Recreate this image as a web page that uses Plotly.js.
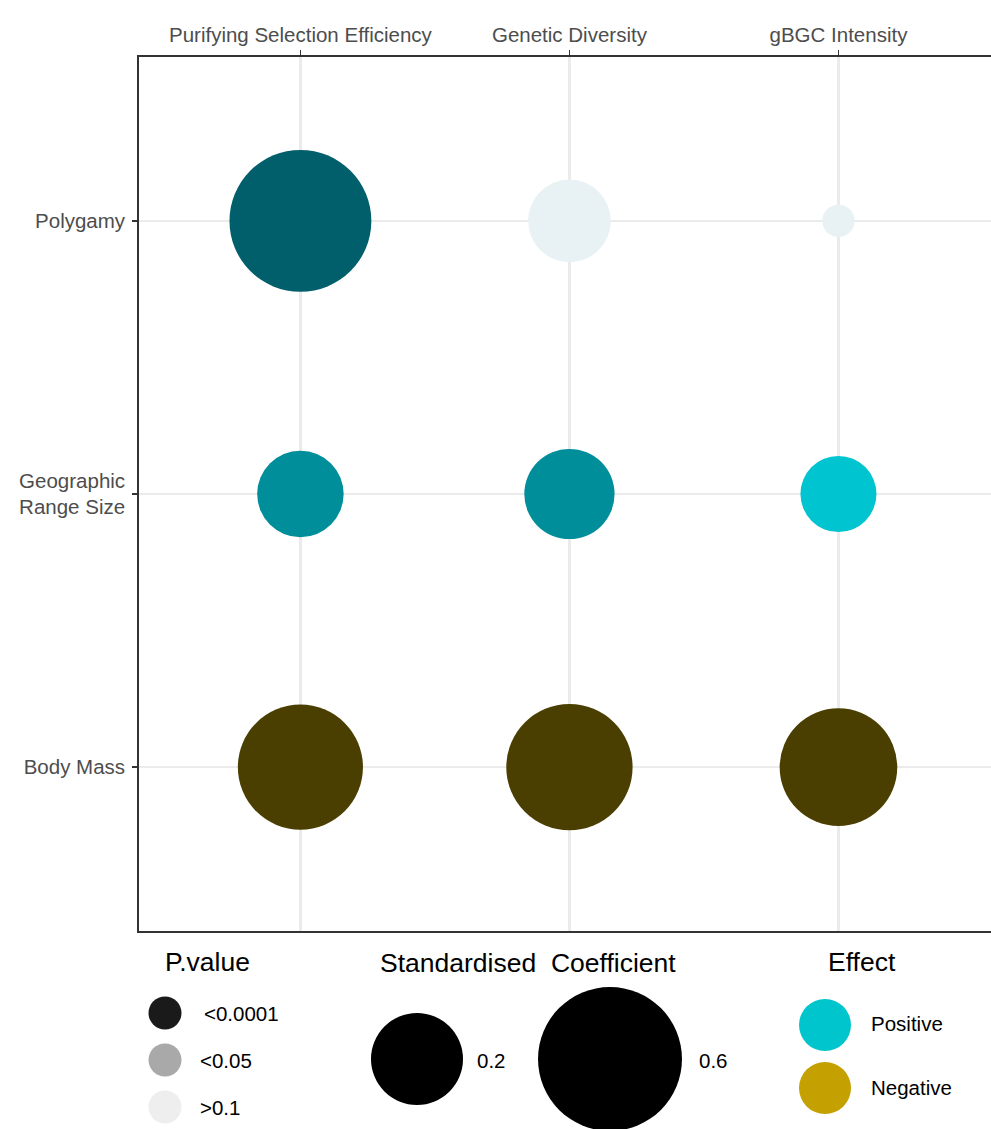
<!DOCTYPE html>
<html><head><meta charset="utf-8">
<script src="https://cdn.plot.ly/plotly-3.0.1.min.js"></script>
<style>html,body{margin:0;padding:0;background:#fff;overflow:hidden}</style>
</head><body><div id="chart" style="width:991px;height:1129px"></div>
<script>
// ---- data ----
const responses = ['Purifying Selection Efficiency', 'Genetic Diversity', 'gBGC Intensity'];
const predictors = ['Body Mass', 'Geographic<br>Range Size', 'Polygamy'];
// standardised coefficients, one array per predictor (in responses order)
const coefPolygamy = [0.58, 0.15, 0.005];
const coefRangeSize = [0.17, 0.19, 0.12];
const coefBodyMass = [-0.43, -0.44, -0.37];
// p-value classes
const pPolygamy = ['<0.0001', '>0.1', '>0.1'];
const pRangeSize = ['<0.05', '<0.05', '<0.1'];
const pBodyMass = ['<0.0001', '<0.0001', '<0.0001'];
// legend keys
const pLevels = ['<0.0001', '<0.05', '>0.1'];
const sizeBreaks = [0.2, 0.6];
const effectLevels = ['Positive', 'Negative'];

// ---- styles ----
const FONT = 'Liberation Sans, Arial, sans-serif';
const shade = {
  Positive: {'<0.0001': '#005F6B', '<0.05': '#008F9A', '<0.1': '#00C4CF', '>0.1': '#E8F1F3'},
  Negative: {'<0.0001': '#4A3F00', '<0.05': '#7A6800', '<0.1': '#C4A000', '>0.1': '#F3F0E4'}
};
const pKeyColor = {'<0.0001': '#1A1A1A', '<0.05': '#A9A9A9', '>0.1': '#EEEEEE'};
const effectColor = {Positive: '#00C5CD', Negative: '#C4A000'};
function diam(v) { return 21.1 + 158.6 * Math.sqrt(Math.abs(v)); }

const rows = [
  {name: 'Polygamy', coef: coefPolygamy, p: pPolygamy},
  {name: 'Geographic<br>Range Size', coef: coefRangeSize, p: pRangeSize},
  {name: 'Body Mass', coef: coefBodyMass, p: pBodyMass}
];
const X = [], Y = [], S = [], C = [];
rows.forEach(r => {
  r.coef.forEach((v, i) => {
    X.push(responses[i]); Y.push(r.name); S.push(diam(v));
    C.push(shade[v >= 0 ? 'Positive' : 'Negative'][r.p[i]]);
  });
});

const traces = [{
  type: 'scatter', mode: 'markers', x: X, y: Y, xaxis: 'x', yaxis: 'y',
  marker: {size: S, sizemode: 'diameter', color: C, opacity: 1, line: {width: 0}},
  hoverinfo: 'skip', showlegend: false
}];

// legend keys (drawn on a pixel-like helper axis)
traces.push({
  type: 'scatter', mode: 'markers', xaxis: 'x2', yaxis: 'y2', cliponaxis: false,
  x: pLevels.map(() => 165), y: pLevels.map((_, i) => 1013 + i * 47),
  marker: {size: 33, opacity: 1, color: pLevels.map(l => pKeyColor[l]), line: {width: 0}},
  hoverinfo: 'skip', showlegend: false
});
traces.push({
  type: 'scatter', mode: 'markers', xaxis: 'x2', yaxis: 'y2', cliponaxis: false,
  x: sizeBreaks.map((_, i) => [417, 610][i]), y: sizeBreaks.map(() => 1059),
  marker: {size: sizeBreaks.map(diam), opacity: 1, color: '#000000', line: {width: 0}},
  hoverinfo: 'skip', showlegend: false
});
traces.push({
  type: 'scatter', mode: 'markers', xaxis: 'x2', yaxis: 'y2', cliponaxis: false,
  x: effectLevels.map(() => 825), y: effectLevels.map((_, i) => 1025 + i * 63),
  marker: {size: 52, opacity: 1, color: effectLevels.map(l => effectColor[l]), line: {width: 0}},
  hoverinfo: 'skip', showlegend: false
});

const ann = [];
function txt(t, x, y, size, anchor) {
  ann.push({text: t, x: x, y: y, xref: 'x2', yref: 'y2', showarrow: false,
    xanchor: anchor || 'center', yanchor: 'middle',
    font: {family: FONT, size: size, color: '#000000'}});
}
txt('P.value', 207, 962, 26.5);
txt('Standardised  Coefficient', 528, 963, 26.5);
txt('Effect', 862, 962, 26.5);
pLevels.forEach((l, i) => txt(l, i === 0 ? 202 : 198, 1013 + i * 47, 20.5, 'left'));
sizeBreaks.forEach((b, i) => txt(String(b), [475, 697][i], 1060, 20.5, 'left'));
effectLevels.forEach((l, i) => txt(l, 869, 1023 + i * 64, 20.5, 'left'));

const layout = {
  width: 991, height: 1129,
  margin: {l: 0, r: 0, t: 0, b: 0},
  paper_bgcolor: '#ffffff', plot_bgcolor: '#ffffff',
  showlegend: false, hovermode: false,
  xaxis: {
    type: 'category', categoryorder: 'array', categoryarray: responses,
    range: [-0.6, 2.567], domain: [139 / 991, 1], side: 'top', anchor: 'y',
    showgrid: true, gridcolor: '#EBEBEB', gridwidth: 2.2, zeroline: false,
    showline: true, linecolor: '#333333', linewidth: 1.8, mirror: true,
    ticks: 'outside', ticklen: 5, tickwidth: 1.8, tickcolor: '#333333',
    tickfont: {family: FONT, size: 20.5, color: '#4D4D4D'}, fixedrange: true
  },
  yaxis: {
    type: 'category', categoryorder: 'array', categoryarray: predictors,
    range: [-0.6, 2.6], domain: [1 - 931 / 1129, 1 - 57 / 1129], anchor: 'x',
    showgrid: true, gridcolor: '#EBEBEB', gridwidth: 2.2, zeroline: false,
    showline: true, linecolor: '#333333', linewidth: 1.8, mirror: false,
    ticks: 'outside', ticklen: 5, tickwidth: 1.8, tickcolor: '#333333',
    ticklabelstandoff: 3,
    tickfont: {family: FONT, size: 20.5, color: '#4D4D4D'}, fixedrange: true
  },
  xaxis2: {domain: [0, 1], range: [0, 991], anchor: 'y2', visible: false, fixedrange: true},
  yaxis2: {domain: [0, 189 / 1129], range: [1129, 940], anchor: 'x2', visible: false, fixedrange: true},
  annotations: ann
};

Plotly.newPlot('chart', traces, layout, {displayModeBar: false, staticPlot: true});
</script></body></html>
